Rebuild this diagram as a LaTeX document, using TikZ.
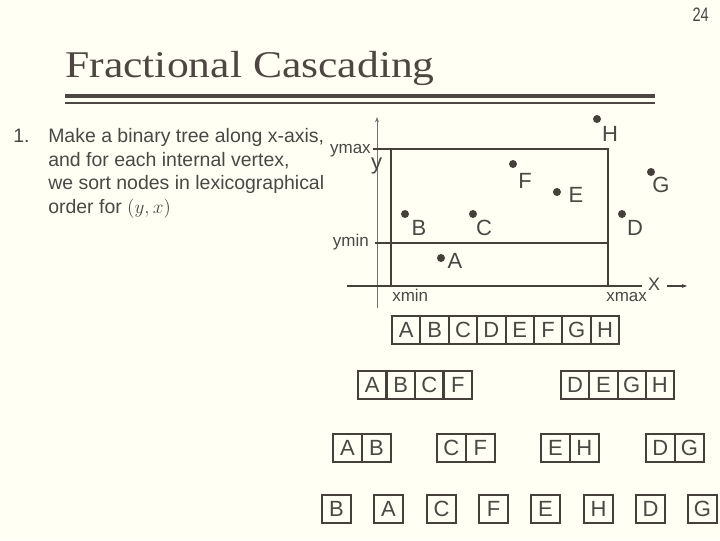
\documentclass[tikz,border=0pt]{standalone}
\usepackage{fontspec}
\setmainfont{Liberation Serif}
\setsansfont{Liberation Sans}
\usetikzlibrary{arrows.meta}
\definecolor{bg}{HTML}{FFFFF3}
\definecolor{ink}{HTML}{45403A}
\definecolor{ttl}{HTML}{4D4741}
\definecolor{txt}{HTML}{4A4845}
\tikzset{
  cell/.style={draw=ink, line width=1.5pt, inner sep=0pt, minimum height=21pt,
    font=\sffamily\fontsize{16.5}{18}\selectfont, text=txt},
  lbl/.style={font=\sffamily\fontsize{16.5}{18}\selectfont, text=txt, inner sep=0pt},
  small/.style={font=\sffamily\fontsize{12.75}{14}\selectfont, text=txt, inner sep=0pt},
  body/.style={font=\sffamily\fontsize{14.6}{17.6}\selectfont, text=txt, inner sep=0pt, anchor=base west},
  thick line/.style={draw=ink, line width=1.7pt},
  dot/.style={fill=ink, draw=none}
}
\begin{document}
\begin{tikzpicture}[x=0.75pt,y=-0.75pt]
\path[use as bounding box, fill=bg] (0,0) rectangle (720,540);
% page number
\node[anchor=base east, inner sep=0pt, text=txt, font=\sffamily\fontsize{14.6}{16}\selectfont] (pg) at (709,21) {\scalebox{0.75}[1]{24}};
% title
\node[anchor=base west, inner sep=0pt, text=ttl, font=\fontsize{28.3}{32}\selectfont] (title) at (65,77) {\scalebox{1.156}[1]{Fractional Cascading}};
\coordinate (r1a) at (65,96); \coordinate (r1b) at (655,96);
\coordinate (r2a) at (65,103); \coordinate (r2b) at (655,103);
\draw[ttl, line width=3pt] (r1a) -- (r1b);
\draw[ttl, line width=1.4pt] (r2a) -- (r2b);
% body text
\node[body] (num) at (13,142) {1.};
\node[body] (b1) at (48,142) {Make a binary tree along x-axis,};
\node[body] (b2) at (48,166) {and for each internal vertex,};
\node[body] (b3) at (48,189.5) {we sort nodes in lexicographical};
\node[body] (b4) at (48,213) {order for $(y,x)$};
% axes
\coordinate (ya) at (377,308); \coordinate (yb) at (377,117);
\draw[gray!80!ink, line width=0.6pt, -{Stealth[length=4pt,width=3pt]}] (ya) -- (yb);
\coordinate (xa) at (347,286); \coordinate (xb) at (642,286);
\draw[ink, line width=0.8pt] (xa) -- (xb);
\coordinate (xc) at (667,286); \coordinate (xd) at (687,286);
\draw[ink, line width=0.8pt, -{Stealth[length=4pt,width=3pt]}] (xc) -- (xd);
% rectangle
\coordinate (p1) at (391,286); \coordinate (p2) at (391,149);
\coordinate (p3) at (608,149); \coordinate (p4) at (608,286);
\coordinate (tk1) at (373,149);
\coordinate (tk2) at (375,243); \coordinate (tk3) at (608,243);
\draw[thick line] (p1) -- (p2) -- (p3) -- (p4);
\draw[thick line] (tk1) -- (p2);
\draw[thick line] (tk2) -- (tk3);
% axis labels
\node[small, anchor=base east] (ymax) at (371,153) {ymax};
\node[small, anchor=base east] (ymin) at (369,246) {ymin};
\node[small, anchor=base west] (xmin) at (392,301) {xmin};
\node[small, anchor=base west] (xmax) at (606,301) {xmax};
\node[lbl, anchor=base] (ylab) at (376.5,169) {y};
\node[small, font=\sffamily\fontsize{13.5}{15}\selectfont, anchor=base] (xlab) at (654,290) {X};
% points
\foreach \n/\px/\py/\lx/\ly in {H/597/119/610/134, F/513/164/525/181, E/557/192/576/195,
  G/651/172/661/185, B/405/214/419/228, C/473/214/484/228, D/622/214/635/228, A/441/258/455/261}{
  \fill[dot] (\px,\py) circle[radius=3pt];
  \node[lbl] (L\n) at (\lx,\ly) {\n};
}
% top row
\foreach \l [count=\i] in {A,B,C,D,E,F,G,H}
  \node[cell, minimum width=21.3pt] (t\i) at ({392+28.4*(\i-0.5)},330) {\l};
% second row
\foreach \l [count=\i] in {A,B,C,F}
  \node[cell, minimum width=21.4pt] (s\i) at ({358+28.5*(\i-0.5)},385) {\l};
\foreach \l [count=\i] in {D,E,G,H}
  \node[cell, minimum width=21.2pt] (u\i) at ({561+28.25*(\i-0.5)},385) {\l};
% third row
\foreach \l/\x [count=\i] in {A/333,B/362,C/437,F/466,E/541,H/570,D/646,G/675}
  \node[cell, minimum width=21.6pt] (v\i) at ({\x+14.4},447.5) {\l};
% fourth row
\foreach \l/\x [count=\i] in {B/322,A/374,C/427,F/479,E/531,H/584,D/636,G/688}
  \node[cell, minimum width=21.75pt] (w\i) at ({\x+14.5},509) {\l};
\end{tikzpicture}
\end{document}
